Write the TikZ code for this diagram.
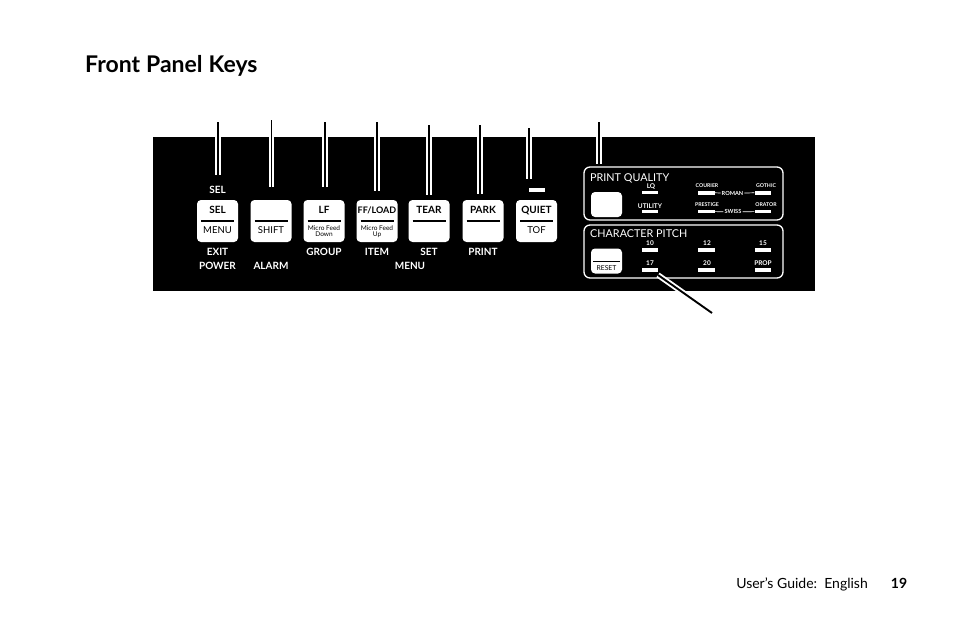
\documentclass[tikz,border=0pt]{standalone}
\usepackage{fontspec}
\setmainfont{Lato}
\newcommand\pfs[1]{\fontsize{#1}{#1}\selectfont}
\begin{document}
\begin{tikzpicture}[x=1pt,y=-1pt,
  keybox/.style={fill=white,draw=none,rounded corners=4pt,minimum width=41pt,minimum height=42pt,inner sep=0pt},
  smallkey/.style={fill=white,draw=none,rounded corners=4pt,minimum width=31pt,minimum height=25pt,inner sep=0pt},
  keytop/.style={anchor=base,inner sep=0pt,font=\pfs{10}\bfseries,text=black},
  keybot/.style={anchor=base,inner sep=0pt,font=\pfs{9.5},text=black},
  keytiny/.style={anchor=base,inner sep=0pt,font=\pfs{6.5},text=black,align=center},
  keyrule/.style={draw=black,line width=1.1pt},
  plabel/.style={anchor=base,inner sep=0pt,font=\pfs{10}\bfseries,text=white},
  leader/.style={preaction={draw=white,line width=5.6pt},draw=black,line width=1.9pt},
  frame/.style={draw=white,line width=1.3pt,rounded corners=6pt},
  lamp/.style={fill=white,draw=none,minimum width=16.7pt,minimum height=3.4pt,inner sep=0pt},
  lamptxt/.style={anchor=base,inner sep=0pt,font=\pfs{6.5}\bfseries,text=white},
  lamptiny/.style={anchor=base,inner sep=0pt,font=\pfs{5.2}\bfseries,text=white},
  headtxt/.style={anchor=base west,inner sep=0pt,font=\pfs{10.8},text=white},
]
\useasboundingbox (0,0) rectangle (954,618);

% title and footer
\node[anchor=base west,inner sep=0pt,font=\pfs{23}\bfseries] (title) at (85,73) {Front\hspace{6pt}Panel\hspace{6pt}Keys};
\node[anchor=base east,inner sep=0pt,font=\pfs{14}] (footer) at (868,588) {User’s Guide:\ \ English};
\node[anchor=base,inner sep=0pt,font=\pfs{14}\bfseries] (page) at (899,588) {19};

% panel
\fill[black] (153,137) rectangle (815,291);

% keys
\newcommand\panelkey[4]{%
  \node[keybox] (#1) at (#2,221) {};
  \node[keytop] (#1-top) at (#2,213.4) {#3};
  \draw[keyrule] (#2-16.5,221) -- (#2+16.5,221);
  \node[keybot] (#1-bot) at (#2,233.5) {#4};
}
\panelkey{ksel}{217.5}{SEL}{MENU}
\panelkey{kshift}{271}{}{SHIFT}
\panelkey{klf}{324}{LF}{}
\panelkey{kff}{377}{\pfs{9}FF/LOAD}{}
\panelkey{ktear}{429}{TEAR}{}
\panelkey{kpark}{483}{PARK}{}
\panelkey{kquiet}{536.5}{QUIET}{TOF}
\node[keytiny] (klf-sub) at (324,230) {Micro Feed};
\node[keytiny] (klf-sub2) at (324,236.5) {Down};
\node[keytiny] (kff-sub) at (377,230) {Micro Feed};
\node[keytiny] (kff-sub2) at (377,236.5) {Up};

% labels around keys
\node[plabel] (lsel) at (217.5,193.3) {SEL};
\node[fill=white,minimum width=16pt,minimum height=4pt,inner sep=0pt] (qlamp) at (537,190) {};
\node[plabel] (lexit) at (217.5,255) {EXIT};
\node[plabel] (lpower) at (217.5,269) {POWER};
\node[plabel] (lalarm) at (271,269) {ALARM};
\node[plabel] (lgroup) at (324,255) {GROUP};
\node[plabel] (litem) at (377,255) {ITEM};
\node[plabel] (lset) at (429,255) {SET};
\node[plabel] (lmenu) at (410,269) {MENU};
\node[plabel] (lprint) at (483,255) {PRINT};

% print quality / character pitch frames
\draw[frame] (584,167) rectangle (783,220);
\draw[frame] (584,225) rectangle (783,278);
\node[headtxt] (pqhead) at (590,181) {PRINT QUALITY};
\node[headtxt] (cphead) at (590,237.5) {CHARACTER PITCH};
\node[smallkey] (pqkey) at (606.5,204.5) {};
\node[smallkey] (resetkey) at (606.5,261) {};
\draw[draw=black,line width=0.9pt] (593,261.5) -- (620,261.5);
\node[anchor=base,inner sep=0pt,font=\pfs{6.8},text=black] (resettxt) at (606.5,270) {RESET};

% print quality lamps
\node[lamp] (bLQ) at (650,192.4) {};
\node[lamp] (bUT) at (650,211.6) {};
\node[lamp] (bCO) at (706.5,192.8) {};
\node[lamp] (bPR) at (706.5,211.6) {};
\node[lamp] (bGO) at (763,192.8) {};
\node[lamp] (bOR) at (763,211.6) {};
\node[lamptxt] (tLQ) at (651,188.3) {LQ};
\node[lamptxt] (tUT) at (650,208.3) {UTILITY};
\node[lamptiny] (tCO) at (707,187.5) {COURIER};
\node[lamptiny] (tPR) at (707,206) {PRESTIGE};
\node[lamptiny] (tGO) at (766,187.5) {GOTHIC};
\node[lamptiny] (tOR) at (766,206) {ORATOR};
\node[inner sep=1pt,font=\pfs{5.6}\bfseries,text=white] (roman) at (732.5,193) {ROMAN};
\node[inner sep=1pt,font=\pfs{5.6}\bfseries,text=white] (swiss) at (733,211.8) {SWISS};
\draw[white,line width=0.7pt] (bCO.east) -- (roman.west);
\draw[white,line width=0.7pt] (roman.east) -- (bGO.west);
\draw[white,line width=0.7pt] (bPR.east) -- (swiss.west);
\draw[white,line width=0.7pt] (swiss.east) -- (bOR.west);

% character pitch lamps
\node[lamp] (b10) at (650,250) {};
\node[lamp] (b12) at (706.5,250) {};
\node[lamp] (b15) at (763,250) {};
\node[lamp] (b17) at (650,270) {};
\node[lamp] (b20) at (706.5,270) {};
\node[lamp] (bPP) at (763,270) {};
\node[lamptxt] (t10) at (650,245) {10};
\node[lamptxt] (t12) at (707,245) {12};
\node[lamptxt] (t15) at (763,245) {15};
\node[lamptxt] (t17) at (650,265) {17};
\node[lamptxt] (t20) at (707,265) {20};
\node[lamptxt] (tPP) at (763,265) {PROP};

% leader lines
\coordinate (a1) at (218,122);  \coordinate (e1) at (218,175);
\coordinate (a2) at (271.5,120); \coordinate (e2) at (271.5,186.5);
\coordinate (a3) at (325,122);  \coordinate (e3) at (325,187);
\coordinate (a4) at (377,122);  \coordinate (e4) at (377,191);
\coordinate (a5) at (429,125);  \coordinate (e5) at (429,195);
\coordinate (a6) at (480,125);  \coordinate (e6) at (480,194);
\coordinate (a7) at (529,128);  \coordinate (e7) at (529,179);
\coordinate (a8) at (599,122);  \coordinate (e8) at (599,164);
\coordinate (a9) at (712,313);  \coordinate (e9) at (658,275);
\foreach \i in {1,...,9} { \draw[leader] (a\i) -- (e\i); }
\end{tikzpicture}
\end{document}
